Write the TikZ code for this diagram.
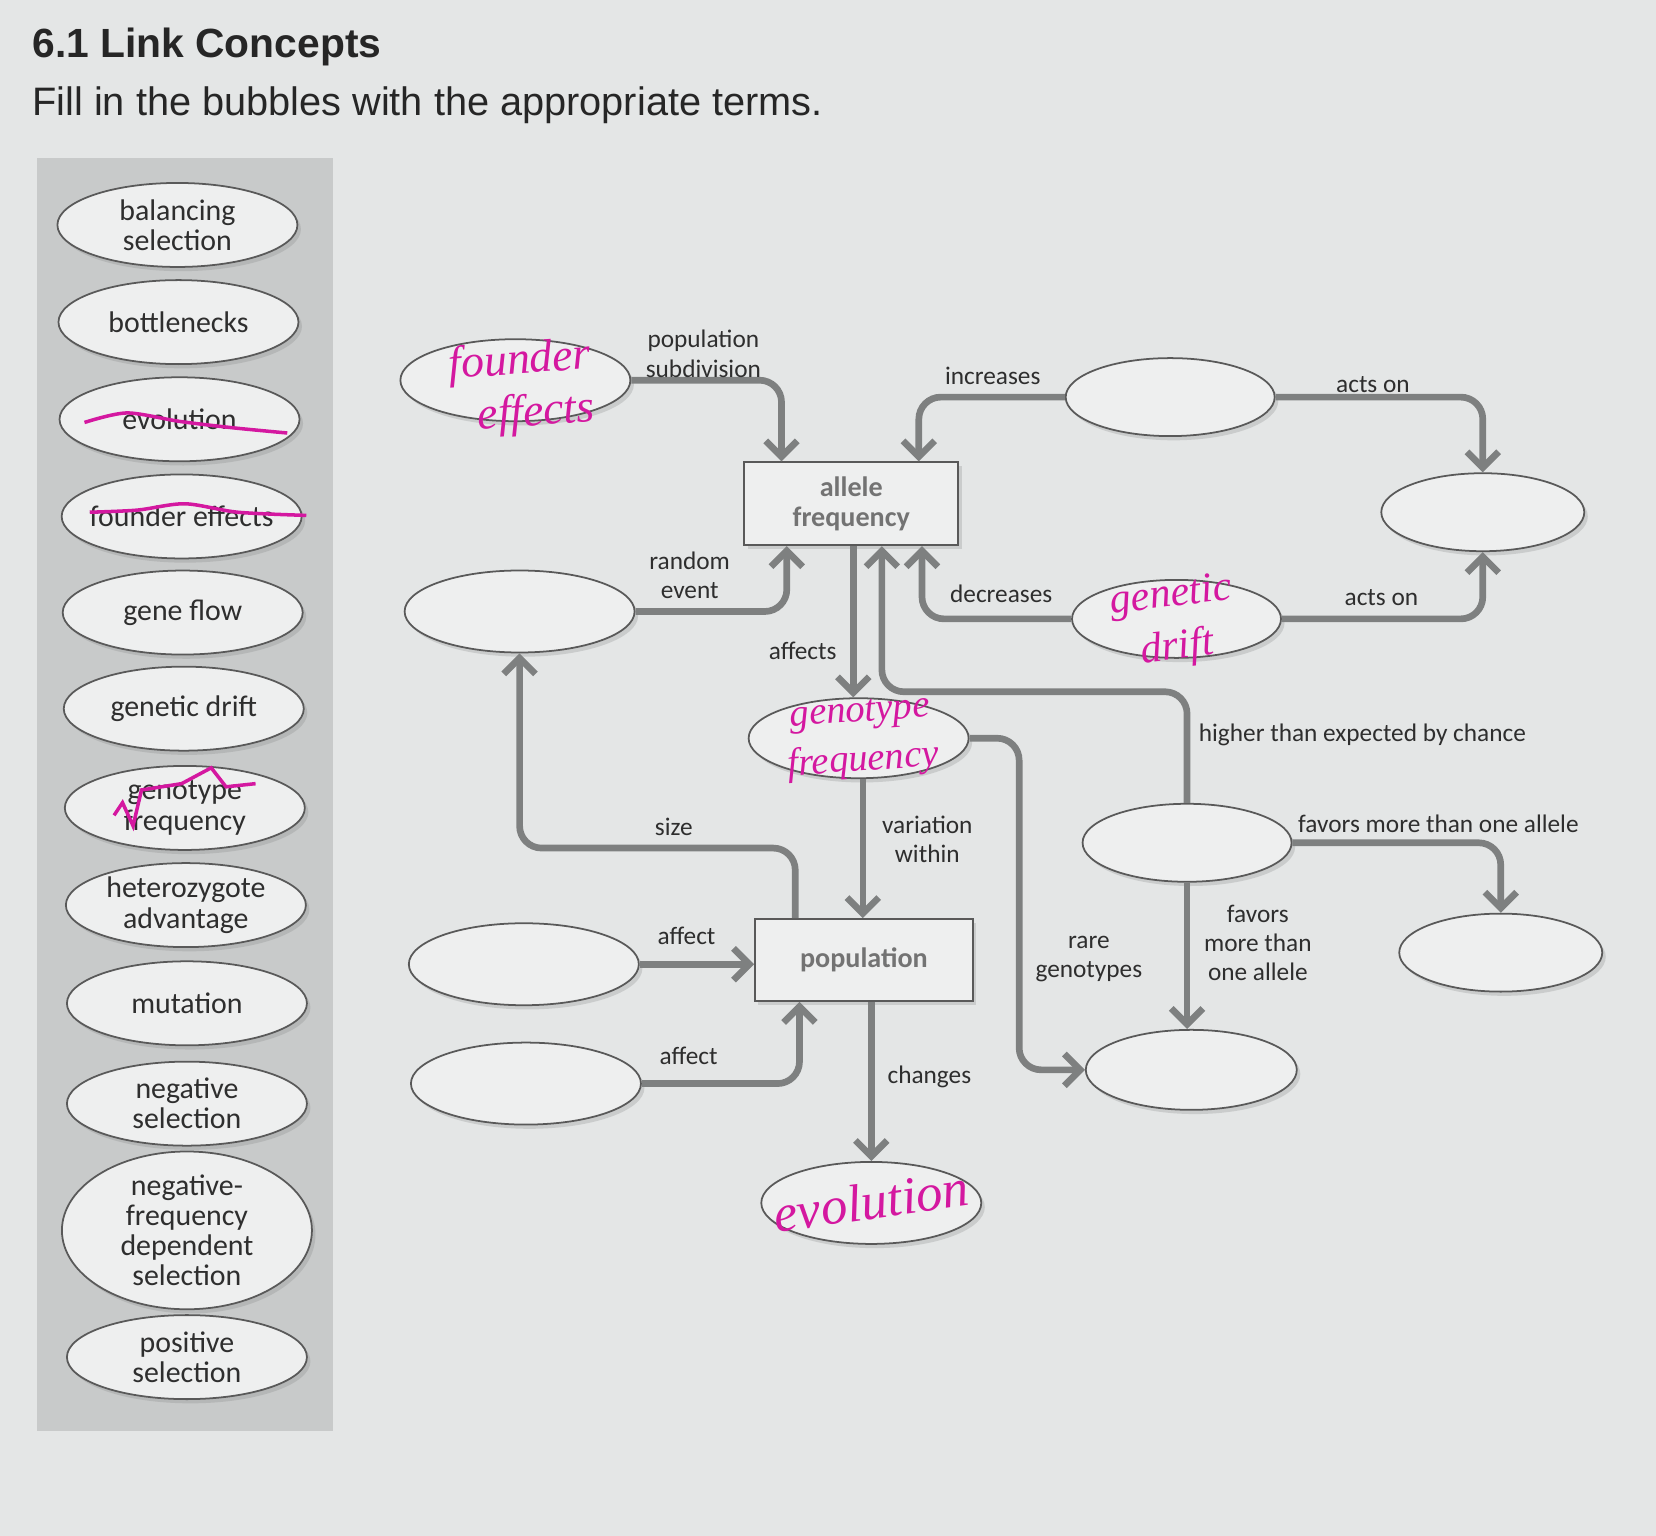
\documentclass[tikz,border=0pt]{standalone}
\usepackage{fontspec}
\usetikzlibrary{arrows.meta,shapes.geometric,shadows}
\newfontfamily\headfont{Liberation Sans}
\newfontfamily\labfont{Carlito}
\newfontfamily\handfont{Liberation Serif}
\definecolor{bgc}{HTML}{E4E6E6}
\definecolor{panelc}{HTML}{C8CACA}
\definecolor{bubc}{HTML}{EEEFEF}
\definecolor{linkc}{HTML}{7E8080}
\definecolor{inkc}{HTML}{D418A0}
\definecolor{txtc}{HTML}{2E2E2E}

\begin{document}
\begin{tikzpicture}[x=0.1056mm,y=-0.1056mm]
\tikzstyle{every node}+=[inner sep=0pt]
\tikzstyle{bubble}=[ellipse, draw=black!65, line width=0.5pt, fill=bubc,
  drop shadow={opacity=0.25,shadow xshift=1pt,shadow yshift=-1.2pt},
  minimum width=23mm, minimum height=8.2mm, align=center, text=txtc,
  font=\labfont\fontsize{8.5}{8.6}\selectfont]
\tikzstyle{bank}=[bubble, inner xsep=-4pt, minimum width=24mm, minimum height=8.4mm]
\tikzstyle{term}=[rectangle, draw=black!65, line width=0.5pt, fill=bubc,
  drop shadow={opacity=0.25,shadow xshift=1pt,shadow yshift=-1.2pt},
  align=center, text=black!55, font=\labfont\bfseries\fontsize{8}{8.6}\selectfont]
\tikzstyle{link}=[draw=linkc, line width=1.9pt, rounded corners=2.2mm,
  -{Straight Barb[length=4.5pt,width=9pt]}]
\tikzstyle{lab}=[align=center, text=txtc, font=\labfont\fontsize{7.2}{8.3}\selectfont]
\tikzstyle{ink}=[text=inkc, align=center, font=\handfont\itshape\fontsize{12}{15}\selectfont]
\tikzstyle{strike}=[draw=inkc, line width=1pt]

% page and word bank
\fill [bgc] (0,0) rectangle (1568,1454);
\fill [panelc] (35,150) rectangle (315,1355);
\node [anchor=west, text=black!85, font=\headfont\bfseries\fontsize{11.6}{14}\selectfont] (title) at (30,44) {6.1 Link Concepts};
\node [anchor=west, text=black!85, font=\headfont\fontsize{11.3}{14}\selectfont] (task) at (30,100) {Fill in the bubbles with the appropriate terms.};

\node [bank] (bal) at (168,213) {balancing\\selection};
\node [bank] (bot) at (169,305) {bottlenecks};
\node [bank] (evo) at (170,397) {evolution};
\node [bank] (fou) at (172,489) {founder effects};
\node [bank] (gfl) at (173,580) {gene flow};
\node [bank] (gdr) at (174,671) {genetic drift};
\node [bank] (gfr) at (175,765) {genotype\\frequency};
\node [bank] (het) at (176,857) {heterozygote\\advantage};
\node [bank] (mut) at (177,950) {mutation};
\node [bank] (neg) at (177,1045) {negative\\selection};
\node [bank, minimum width=25mm, minimum height=13.7mm] (nfd) at (177,1165) {negative-\\frequency\\dependent\\selection};
\node [bank] (pos) at (177,1285) {positive\\selection};

% crossed out terms
\draw [strike] plot [smooth] coordinates {(80,400) (120,391) (170,399) (220,405) (272,410)};
\draw [strike] plot [smooth] coordinates {(85,485) (130,483) (175,477) (225,485) (290,488)};
\draw [strike] plot coordinates {(108,772) (116,760) (126,782) (134,748) (172,742) (200,727) (214,745) (242,742)};

% concept map
\node [term, minimum width=21.4mm, minimum height=8.3mm] (af) at (806,477) {allele\\frequency};
\node [term, minimum width=21.8mm, minimum height=8.2mm] (pop) at (818,909) {population};

\node [bubble] (fe) at (488,360) {};
\node [bubble, minimum width=20.9mm, minimum height=7.8mm] (inc) at (1108,376) {};
\node [bubble, minimum width=20.3mm, minimum height=7.8mm] (act) at (1404,485) {};
\node [bubble] (ran) at (492,579) {};
\node [bubble, minimum width=20.9mm, minimum height=7.8mm] (gd) at (1114,586) {};
\node [bubble, minimum width=22mm, minimum height=8mm] (gt) at (813,699) {};
\node [bubble, minimum width=20.9mm, minimum height=7.8mm] (hi) at (1124,798) {};
\node [bubble, minimum width=20.3mm, minimum height=7.8mm] (fav) at (1421,902) {};
\node [bubble] (aff1) at (496,913) {};
\node [bubble] (aff2) at (498,1026) {};
\node [bubble, minimum width=21.1mm, minimum height=8mm] (rar) at (1128,1013) {};
\node [bubble, minimum width=22mm, minimum height=8.2mm] (ev) at (825,1139) {};

% handwritten answers
\node [ink, rotate=4, align=right, font=\handfont\itshape\fontsize{13}{15}\selectfont] (feA) at (494,368) {founder\\effects};
\node [ink, rotate=7] (gdA) at (1112,590) {genetic\\drift};
\node [ink, rotate=4, font=\handfont\itshape\fontsize{11}{14}\selectfont] (gtA) at (816,700) {genotype\\frequency};
\node [ink, rotate=8, font=\handfont\itshape\fontsize{15}{15}\selectfont] (evA) at (825,1137) {evolution};

% connectors
\draw [link] (fe.east) -| (740,0 |- af.north);
\draw [link] (inc.west) -| (870,0 |- af.north);
\draw [link] (inc.east) -| (act.north);
\draw [link] (ran.east) -| (745,0 |- af.south);
\draw [link] (gd.west) -| (873,0 |- af.south);
\draw [link] (gd.east) -| (act.south);
\draw [link] (808,0 |- af.south) -- (808,0 |- gt.north);
\draw [link] (hi.north) |- (835,655) -- (835,0 |- af.south);
\draw [link] (753,0 |- pop.north) |- (ran.south |- 0,803) -- (ran.south);
\draw [link] (817,0 |- gt.south) -- (817,0 |- pop.north);
\draw [link] (gt.east) -| (965,0 |- rar.west) -- (rar.west);
\draw [link] (hi.east) -| (fav.north);
\draw [link] (hi.south) -- (hi.south |- rar.north);
\draw [link] (aff1.east) -- (aff1.east -| pop.west);
\draw [link] (aff2.east) -| (757,0 |- pop.south);
\draw [link] (ev.north |- pop.south) -- (ev.north);

% link labels
\node [lab] (lSub) at (666,335) {population\\subdivision};
\node [lab] (lInc) at (940,356) {increases};
\node [lab] (lAct1) at (1300,364) {acts on};
\node [lab] (lRan) at (653,545) {random\\event};
\node [lab] (lDec) at (948,562) {decreases};
\node [lab] (lAct2) at (1308,566) {acts on};
\node [lab] (lAffs) at (760,616) {affects};
\node [lab] (lHi) at (1290,696) {higher than expected by chance};
\node [lab] (lSize) at (638,783) {size};
\node [lab] (lVar) at (878,795) {variation\\within};
\node [lab] (lFav1) at (1362,780) {favors more than one allele};
\node [lab] (lRare) at (1031,908) {rare\\genotypes};
\node [lab] (lFav2) at (1191,893) {favors\\more than\\one allele};
\node [lab] (lAff1) at (650,886) {affect};
\node [lab] (lAff2) at (652,1000) {affect};
\node [lab] (lChg) at (880,1020) {changes};
\end{tikzpicture}
\end{document}
